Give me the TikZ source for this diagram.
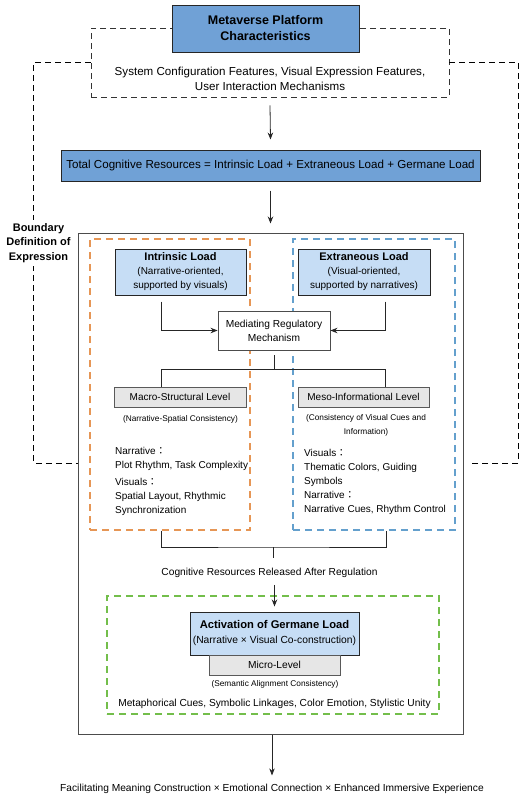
\documentclass[tikz,border=0pt]{standalone}
\usepackage{fontspec}
\setmainfont{Liberation Sans}
\newfontfamily\cjkf{Noto Sans CJK JP}
\usetikzlibrary{arrows.meta,calc}
\newcommand{\fwc}{{\cjkf ：}}
\definecolor{dblue}{RGB}{112,161,214}
\definecolor{lblue}{RGB}{198,221,245}
\definecolor{lgray}{RGB}{230,230,230}
\definecolor{ocol}{RGB}{230,150,85}
\definecolor{bcol}{RGB}{100,160,205}
\definecolor{gcol}{RGB}{115,190,75}
\begin{document}
\begin{tikzpicture}[x=1pt,y=-1pt,
  every node/.style={font=\fontsize{10.2}{14}\selectfont, text=black},
  darkbox/.style={draw=black!85, line width=1pt, fill=dblue, align=center, inner sep=0},
  lightbox/.style={draw=black!85, line width=1pt, fill=lblue, align=center, inner sep=0},
  graybox/.style={draw=black!65, line width=0.9pt, fill=lgray, align=center, inner sep=0},
  whitebox/.style={draw=black!70, line width=0.9pt, fill=white, align=center, inner sep=0},
  bigbox/.style={draw=black!70, line width=1pt, inner sep=0},
  bdash/.style={draw=black, line width=0.9pt, dash pattern=on 6pt off 4pt},
  ddash/.style={draw=black!80, line width=0.8pt, dash pattern=on 6pt off 4pt, inner sep=0},
  odash/.style={draw=ocol, line width=1.1pt, dash pattern=on 7pt off 5pt, inner sep=0},
  bldash/.style={draw=bcol, line width=1.1pt, dash pattern=on 7pt off 5pt, inner sep=0},
  gdash/.style={draw=gcol, line width=1.1pt, dash pattern=on 7pt off 5pt, inner sep=0},
  con/.style={draw=black!85, line width=0.8pt},
  arr/.style={con, -{Stealth[length=7pt,width=5.5pt]}},
  lbl/.style={inner sep=0},
  subfont/.style={font=\fontsize{8.3}{14}\selectfont},
]
\fill[white] (0,0) rectangle (524,798);
\useasboundingbox (0,0) rectangle (524,798);

% top
\node[ddash, minimum width=358, minimum height=69] (feat) at (270,62.5) {};
\node[darkbox, minimum width=187, minimum height=47, font=\fontsize{12.5}{16}\selectfont\bfseries] (meta) at (265.5,28.5) {Metaverse Platform\\Characteristics};
\node[lbl, align=center, font=\fontsize{11.6}{15}\selectfont] (feattxt) at (270,79) {System Configuration Features, Visual Expression Features,\\User Interaction Mechanisms};

\node[darkbox, minimum width=419, minimum height=31, font=\fontsize{11.6}{14}\selectfont] (total) at (270.5,165.5) {Total Cognitive Resources = Intrinsic Load + Extraneous Load + Germane Load};

\draw[arr] ([yshift=-8pt]feat.south) -- ([yshift=10pt]total.north);

% big frame
\node[bigbox, minimum width=385, minimum height=501] (big) at (270.5,483.5) {};
\draw[arr] ([yshift=-9pt]total.south) -- ([yshift=9pt]big.north);

% boundary connectors
\draw[bdash] (feat.west) -| ([xshift=-44pt,yshift=20.5pt]big.west) -- ([yshift=20.5pt]big.west);
\draw[bdash] (feat.east) -| ([xshift=55pt,yshift=20.5pt]big.east) -- ([xshift=5pt,yshift=20.5pt]big.east);
\node[lbl, fill=white, align=center, font=\fontsize{11}{14.5}\selectfont\bfseries, inner ysep=3pt] (bound) at (38.5,243) {Boundary\\Definition of\\Expression};

% dashed groups
\node[odash, minimum width=160, minimum height=291] (ogrp) at (170,384.5) {};
\node[bldash, minimum width=162, minimum height=291] (bgrp) at (374,384.5) {};

\node[lightbox, minimum width=131, minimum height=46, font=\fontsize{10}{14}\selectfont] (intr) at (180.5,272) {{\fontsize{11}{14}\selectfont\bfseries Intrinsic Load}\\(Narrative-oriented,\\supported by visuals)};
\node[lightbox, minimum width=132, minimum height=46, font=\fontsize{10}{14}\selectfont] (extr) at (364,272) {{\fontsize{11}{14}\selectfont\bfseries Extraneous Load}\\(Visual-oriented,\\supported by narratives)};

\node[whitebox, minimum width=112, minimum height=39, font=\fontsize{10.2}{14}\selectfont] (med) at (274,330.5) {Mediating Regulatory\\Mechanism};

\draw[arr] ([xshift=-19.5pt,yshift=-6pt]intr.south) |- (med.west);
\draw[arr] ([xshift=21pt,yshift=-6pt]extr.south) |- (med.east);

\node[graybox, minimum width=132, minimum height=20, font=\fontsize{10}{12}\selectfont] (macro) at (180,397) {Macro-Structural Level};
\node[graybox, minimum width=131, minimum height=20, font=\fontsize{10}{12}\selectfont] (meso) at (363.5,397) {Meso-Informational Level};

\draw[con] ([yshift=-5pt]med.south) -- ++(0,14) coordinate (j1);
\draw[con] ([xshift=-19pt]macro.north) |- (j1) -| ([xshift=21.5pt]meso.north);

\node[lbl, anchor=base, subfont] (macsub) at (180.5,421) {(Narrative-Spatial Consistency)};
\node[lbl, anchor=north, align=center, subfont] (messub) at (366,414.5) {(Consistency of Visual Cues and\\Information)};

\node[lbl, anchor=north west, align=left, font=\fontsize{10}{14}\selectfont] (ltxt1) at (115,447.5) {Narrative\fwc\\Plot Rhythm, Task Complexity};
\node[lbl, anchor=north west, align=left, font=\fontsize{10}{13.6}\selectfont] (ltxt2) at (115,478.5) {Visuals\fwc\\Spatial Layout, Rhythmic\\Synchronization};
\node[lbl, anchor=north west, align=left, font=\fontsize{10}{13.8}\selectfont] (rtxt) at (304,449.5) {Visuals\fwc\\Thematic Colors, Guiding\\Symbols\\Narrative\fwc\\Narrative Cues, Rhythm Control};

% release
\coordinate (j2) at (273.5,547);
\draw[con] ([xshift=-9pt]ogrp.south) |- (j2) -| ([xshift=12pt]bgrp.south);
\draw[con] (j2) -- ++(0,11);
\node[lbl, anchor=base] (rel) at (269.5,575.5) {Cognitive Resources Released After Regulation};

% germane
\node[gdash, minimum width=332, minimum height=118] (ggrp) at (273,655) {};
\node[lightbox, minimum width=169, minimum height=43, font=\fontsize{10.3}{15}\selectfont] (act) at (274.5,633.5) {{\fontsize{11.2}{15}\selectfont\bfseries Activation of Germane Load}\\(Narrative × Visual Co-construction)};
\node[graybox, minimum width=131, minimum height=20, font=\fontsize{10.2}{12}\selectfont] (micro) at (274.5,665) {Micro-Level};
\draw[arr] ([yshift=-7pt]rel.south -| act.north) -- ([yshift=5pt]act.north);
\node[lbl, anchor=base, subfont] (semsub) at (275,686) {(Semantic Alignment Consistency)};
\node[lbl, anchor=base] (meta2) at (274.5,706.5) {Metaphorical Cues, Symbolic Linkages, Color Emotion, Stylistic Unity};

% final
\node[lbl, anchor=base] (final) at (272,791) {Facilitating Meaning Construction × Emotional Connection × Enhanced Immersive Experience};
\draw[arr] (big.south -| final.north) -- ([yshift=8pt]final.north);
\end{tikzpicture}
\end{document}
